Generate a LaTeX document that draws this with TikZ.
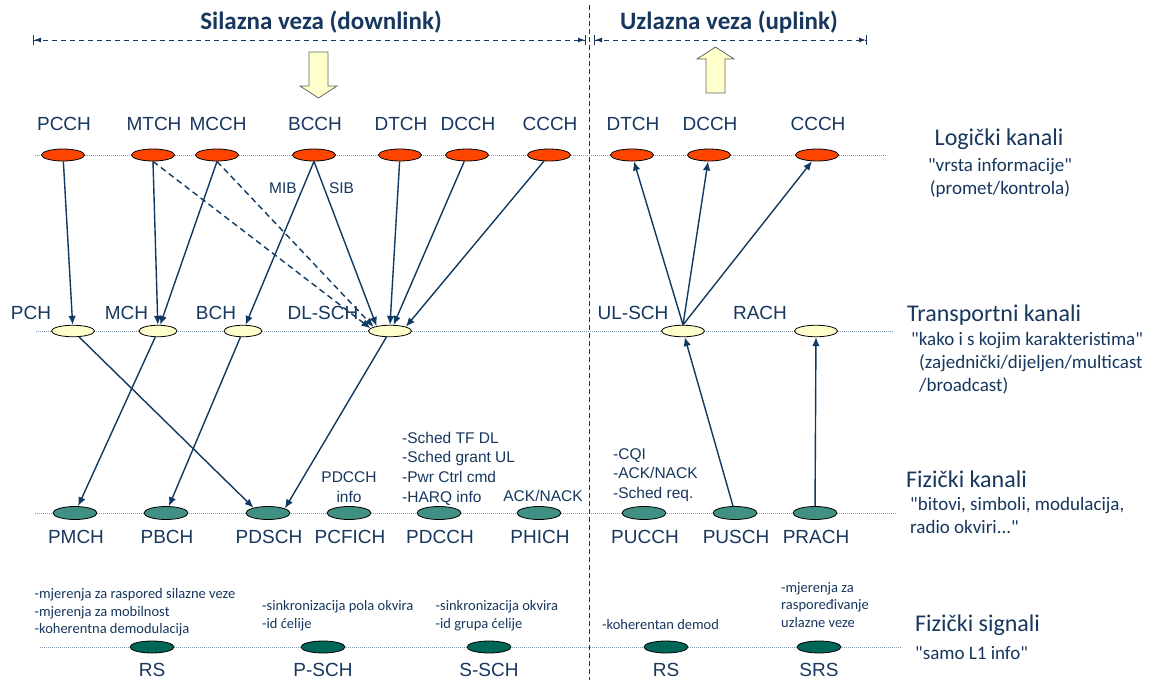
\documentclass[tikz,border=0pt]{standalone}
\usepackage{fontspec}
\setmainfont{Liberation Sans}
\newfontfamily\calibri{Carlito}
\usetikzlibrary{shapes.geometric}
\usetikzlibrary{calc}
\usetikzlibrary{arrows.meta}
\usetikzlibrary{positioning}
\definecolor{Navy}{RGB}{23,55,94}
\definecolor{LineBlue}{RGB}{16,58,98}
\definecolor{LogFill}{RGB}{255,69,0}
\definecolor{TrFill}{RGB}{255,255,204}
\definecolor{PhyFill}{RGB}{64,145,132}
\definecolor{SigFill}{RGB}{0,102,88}
\definecolor{RowDot}{RGB}{130,152,180}
\newcommand{\drawBlockArrow}[2]{
	\begin{scope}[shift={(#1)},rotate=#2]
		%Hollow arrow, tip at the origin
		\draw[BlockArrow] (-9.5,-46) -- (9.5,-46) -- (9.5,-12) -- (18.5,-12) -- (0,0)
			-- (-18.5,-12) -- (-9.5,-12) -- cycle;
	\end{scope}
}

\begin{document}
\begin{tikzpicture}[x=1pt,y=-1pt]
		\tikzstyle{Chan} = [ellipse, draw=black, line width=0.8pt, minimum width=43pt, minimum height=12pt, inner sep=0pt]
		\tikzstyle{Logical} = [Chan, fill=LogFill]
		\tikzstyle{Transport} = [Chan, fill=TrFill, minimum height=11.5pt]
		\tikzstyle{Physical} = [Chan, fill=PhyFill, minimum width=44pt, minimum height=13pt]
		\tikzstyle{Signal} = [Chan, fill=SigFill, minimum width=44pt]
		\tikzstyle{ChanLabel} = [text=Navy, font=\fontsize{19}{22}\selectfont, inner sep=0pt]
		\tikzstyle{Note} = [text=Navy, font=\fontsize{15.5}{19.7}\selectfont, inner sep=0pt, align=left]
		\tikzstyle{SignalNote} = [text=Navy, font=\calibri\fontsize{14.5}{17.5}\selectfont, inner sep=0pt, align=left]
		\tikzstyle{Layer} = [text=Navy, font=\calibri\fontsize{24}{28}\selectfont, inner sep=0pt]
		\tikzstyle{LayerNote} = [text=Navy, font=\calibri\fontsize{19}{23}\selectfont, inner sep=0pt]
		\tikzstyle{Heading} = [text=Navy, font=\calibri\bfseries\fontsize{25}{30}\selectfont, inner sep=0pt]
		\tikzstyle{Link} = [LineBlue, line width=1.4pt, -{Latex[length=9pt,width=7.5pt]}]
		\tikzstyle{Span} = [Navy, line width=1pt, dash pattern=on 5pt off 4pt,
			{Bar[width=10pt]Latex[length=7pt,width=5pt]}-{Latex[length=7pt,width=5pt]Bar[width=10pt]}]
		\tikzstyle{RowLine} = [RowDot, line width=0.7pt, dash pattern=on 1pt off 1pt]
		\tikzstyle{BlockArrow} = [fill=TrFill, draw=gray!80!black, line width=0.8pt]

		\fill[white] (0,0) rectangle (1161,680);
		\useasboundingbox (0,0) rectangle (1161,680);

		%Draw the layer lines
		\foreach \y/\xa/\xb in {155/35/887, 331/36/893, 513/35/897, 647/40/902}
			\draw[RowLine] (\xa,\y) -- (\xb,\y);
		\draw[Navy, line width=1pt, dash pattern=on 5pt off 3pt] (589,5) -- (589,680);

		%Headings
		\node[Heading] (DLHead) at (321,22){Silazna veza (downlink)};
		\node[Heading] (ULHead) at (729,22){Uzlazna veza (uplink)};
		\coordinate (DLa) at (33,40);
		\coordinate (DLb) at (586,40);
		\coordinate (ULa) at (594,40);
		\coordinate (ULb) at (867,40);
		\draw[Span] (DLa) -- (DLb);
		\draw[Span] (ULa) -- (ULb);
		\drawBlockArrow{318.5,98}{0}
		\drawBlockArrow{715.5,47}{180}

		%Logical channels
		\foreach \n/\x/\t in {dPCCH/63/PCCH, dMTCH/153/MTCH, dMCCH/217/MCCH, dBCCH/314/BCCH, dDTCH/400/DTCH,
			dDCCH/467/DCCH, dCCCH/549/CCCH, uDTCH/632/DTCH, uDCCH/709/DCCH, uCCCH/817/CCCH}{
			\node[Logical] (\n) at (\x,155){};
			\node[ChanLabel] (\n-Label) at ($(\n) + (1,-31)$){\t};
		}

		%Transport channels
		\foreach \n/\x/\w/\lx/\t in {PCH/73/43pt/31/PCH, MCH/158/38pt/126.5/MCH, BCH/243/38pt/216/BCH,
			DLSCH/390/43pt/323/DL-SCH, ULSCH/683/43pt/633/UL-SCH, RACH/816/43pt/760/RACH}{
			\node[Transport, minimum width=\w] (\n) at (\x,331){};
			\node[ChanLabel] (\n-Label) at (\lx,313){\t};
		}

		%Physical channels
		\foreach \n/\x in {PMCH/75, PBCH/166, PDSCH/268, PCFICH/349, PDCCH/439, PHICH/539,
			PUCCH/644, PUSCH/735, PRACH/815}{
			\node[Physical] (\n) at (\x,513){};
			\node[ChanLabel] (\n-Label) at ($(\n) + (1,24)$){\n};
		}

		%Physical signals
		\foreach \n/\x/\t in {dRS/152/RS, PSCH/323/P-SCH, SSCH/489/S-SCH, uRS/666/RS, SRS/819/SRS}{
			\node[Signal] (\n) at (\x,647){};
			\node[ChanLabel] (\n-Label) at ($(\n) + (0,23)$){\t};
		}

		%Downlink mapping
		\draw[Link] (dPCCH) -- (PCH);
		\draw[Link] (dMTCH.south) -- (MCH);
		\draw[Link] (dMCCH.south) -- (MCH);
		\draw[Link, dash pattern=on 6pt off 4pt] (dMTCH.south) -- (DLSCH.172);
		\draw[Link, dash pattern=on 6pt off 4pt] (dMCCH.south) -- (DLSCH.166);
		\draw[Link] (dBCCH.south) -- (BCH);
		\draw[Link] (dBCCH.south) -- (DLSCH.160);
		\draw[Link] (dDTCH) -- (DLSCH.north);
		\draw[Link] (dDCCH) -- (DLSCH.60);
		\draw[Link] (dCCCH) -- (DLSCH.15);
		\node[Note] (MIB) at (283,188){MIB};
		\node[Note] (SIB) at (341.5,188){SIB};

		\draw[Link] (PCH) -- (PDSCH.160);
		\draw[Link] (MCH) -- (PMCH);
		\draw[Link] (BCH) -- (PBCH);
		\draw[Link] (DLSCH) -- (PDSCH.15);

		%Uplink mapping
		\draw[Link] (ULSCH.north) -- (uDTCH);
		\draw[Link] (ULSCH.north) -- (uDCCH);
		\draw[Link] (ULSCH.north) -- (uCCCH);
		\draw[Link] (PUSCH) -- (ULSCH);
		\draw[Link] (PRACH) -- (RACH);

		%Notes on the channels
		\node[Note, align=center] (PCFICHNote) at (349,487){PDCCH\\info};
		\node[Note, anchor=west] (PDCCHNote) at (402,468.5){-Sched TF DL\\-Sched grant UL\\-Pwr Ctrl cmd\\-HARQ info};
		\node[Note] (PHICHNote) at (543,496){ACK/NACK};
		\node[Note, anchor=west] (PUCCHNote) at (613,475){-CQI\\-ACK/NACK\\-Sched req.};

		\node[SignalNote, anchor=west] (dRSNote) at (34.5,612.5){-mjerenja za raspored silazne veze\\-mjerenja za mobilnost\\-koherentna demodulacija};
		\node[SignalNote, anchor=west] (PSCHNote) at (262,615.5){-sinkronizacija pola okvira\\-id ćelije};
		\node[SignalNote, anchor=west] (SSCHNote) at (435.5,615.5){-sinkronizacija okvira\\-id grupa ćelije};
		\node[SignalNote, anchor=west] (uRSNote) at (602,625){-koherentan demod};
		\node[SignalNote, anchor=west] (SRSNote) at (781,605){-mjerenja za\\raspoređivanje\\uzlazne veze};

		%Layer labels
		\node[Layer] (LogLayer) at (999,139){Logički kanali};
		\node[LayerNote, align=center] (LogNote) at (1000,178){"vrsta informacije"\\(promet/kontrola)};
		\node[Layer, anchor=west] (TrLayer) at (907,315){Transportni kanali};
		\node[LayerNote, anchor=west, align=left] (TrNote) at (911,363.5){"kako i s kojim karakteristima"\\\hspace*{8pt}(zajednički/dijeljen/multicast\\\hspace*{8pt}/broadcast)};
		\node[Layer, anchor=west] (PhyLayer) at (906,479){Fizički kanali};
		\node[LayerNote, anchor=west, align=left] (PhyNote) at (910,515.5){"bitovi, simboli, modulacija,\\radio okviri..."};
		\node[Layer, anchor=west] (SigLayer) at (915,625){Fizički signali};
		\node[LayerNote, anchor=west] (SigNote) at (915,653){"samo L1 info"};
	\end{tikzpicture}
\end{document}
